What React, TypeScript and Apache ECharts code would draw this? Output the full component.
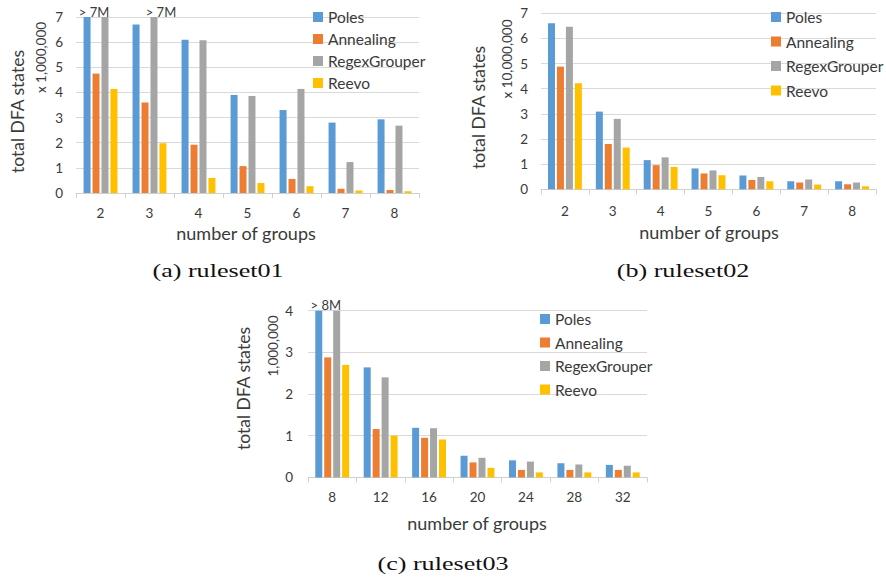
import React, { useEffect, useRef } from "react";
import * as echarts from "echarts";

// ---------- data ----------
const seriesNames = ["Poles", "Annealing", "RegexGrouper", "Reevo"];
const seriesColors = ["#5B9BD5", "#ED7D31", "#A5A5A5", "#FFC000"];

// (a) ruleset01, units of 1,000,000
const categoriesA = ["2", "3", "4", "5", "6", "7", "8"];
const polesA = [7, 6.7, 6.1, 3.9, 3.3, 2.8, 2.93];
const annealingA = [4.75, 3.6, 1.92, 1.07, 0.56, 0.17, 0.12];
const regexA = [7, 7, 6.08, 3.86, 4.14, 1.23, 2.68];
const reevoA = [4.14, 1.98, 0.6, 0.4, 0.27, 0.1, 0.07];
const overflowA = [
  { series: "Poles", index: 0, text: "> 7M" },
  { series: "RegexGrouper", index: 1, text: "> 7M" },
];

// (b) ruleset02, units of 10,000,000
const categoriesB = ["2", "3", "4", "5", "6", "7", "8"];
const polesB = [6.6, 3.09, 1.16, 0.83, 0.55, 0.32, 0.32];
const annealingB = [4.88, 1.8, 0.96, 0.63, 0.37, 0.27, 0.2];
const regexB = [6.47, 2.8, 1.27, 0.75, 0.49, 0.39, 0.27];
const reevoB = [4.22, 1.66, 0.89, 0.56, 0.32, 0.19, 0.12];

// (c) ruleset03, units of 1,000,000
const categoriesC = ["8", "12", "16", "20", "24", "28", "32"];
const polesC = [4, 2.64, 1.19, 0.52, 0.41, 0.34, 0.3];
const annealingC = [2.88, 1.16, 0.95, 0.36, 0.18, 0.18, 0.18];
const regexC = [4, 2.4, 1.18, 0.47, 0.38, 0.31, 0.28];
const reevoC = [2.7, 1.0, 0.91, 0.23, 0.12, 0.12, 0.12];
const overflowC = [{ series: "Poles", index: 0, text: "> 8M" }];

const yTicksAB = { min: 0, max: 7, interval: 1 };
const yTicksC = { min: 0, max: 4, interval: 1 };

const FONT = "Lato, 'Open Sans', sans-serif";
const TXT = "#3a3a3a";

type Overflow = { series: string; index: number; text: string };

function buildData(name: string, values: number[], overflow: Overflow[]) {
  return values.map((v, i) => {
    const o = overflow.find((x) => x.series === name && x.index === i);
    if (!o) return v;
    return {
      value: v,
      label: {
        show: true,
        position: "top",
        distance: 0,
        offset: [7, 1],
        formatter: o.text,
        fontFamily: FONT,
        fontSize: 13,
        color: TXT,
      },
    };
  });
}

export default function App() {
  const ref = useRef<HTMLDivElement>(null);

  useEffect(() => {
    if (!ref.current) return;
    const chart = echarts.init(ref.current, undefined, { renderer: "svg" });

    const panels = [
      {
        cats: categoriesA,
        vals: [polesA, annealingA, regexA, reevoA],
        overflow: overflowA,
        grid: { left: 76, top: 17, width: 343, height: 176 },
        ticks: yTicksAB,
        yMargin: 13,
        xMargin: 13,
        legend: { left: 313, top: 9, itemGap: 6 },
      },
      {
        cats: categoriesB,
        vals: [polesB, annealingB, regexB, reevoB],
        overflow: [] as Overflow[],
        grid: { left: 541, top: 13.3, width: 335, height: 176 },
        ticks: yTicksAB,
        yMargin: 13,
        xMargin: 14.5,
        legend: { left: 771, top: 9, itemGap: 8.5 },
      },
      {
        cats: categoriesC,
        vals: [polesC, annealingC, regexC, reevoC],
        overflow: overflowC,
        grid: { left: 308, top: 310.7, width: 339, height: 166.7 },
        ticks: yTicksC,
        yMargin: 15,
        xMargin: 13,
        legend: { left: 540, top: 311, itemGap: 7.5 },
      },
    ];

    const grids: any[] = [];
    const xAxes: any[] = [];
    const yAxes: any[] = [];
    const legends: any[] = [];
    const series: any[] = [];

    panels.forEach((p, gi) => {
      grids.push({ ...p.grid, containLabel: false });
      xAxes.push({
        type: "category",
        gridIndex: gi,
        data: p.cats,
        boundaryGap: true,
        axisLine: { show: true, lineStyle: { color: "#d0d0d0", width: 1 } },
        axisTick: {
          show: true,
          length: 5,
          alignWithLabel: false,
          lineStyle: { color: "#d0d0d0" },
        },
        axisLabel: {
          fontFamily: FONT,
          fontSize: 13.5,
          color: TXT,
          margin: p.xMargin,
        },
      });
      yAxes.push({
        type: "value",
        gridIndex: gi,
        min: p.ticks.min,
        max: p.ticks.max,
        interval: p.ticks.interval,
        axisLine: { show: false },
        axisTick: { show: false },
        splitLine: { show: true, lineStyle: { color: "#d9d9d9", width: 1 } },
        axisLabel: {
          fontFamily: FONT,
          fontSize: 13.5,
          color: TXT,
          margin: p.yMargin,
        },
      });
      legends.push({
        orient: "vertical",
        left: p.legend.left,
        top: p.legend.top,
        padding: 0,
        itemGap: p.legend.itemGap,
        itemWidth: 10,
        itemHeight: 10,
        icon: "rect",
        data: seriesNames,
        textStyle: { fontFamily: FONT, fontSize: 15.5, color: TXT },
      });
      seriesNames.forEach((name, si) => {
        series.push({
          type: "bar",
          name,
          xAxisIndex: gi,
          yAxisIndex: gi,
          barWidth: 7,
          barGap: "28%",
          itemStyle: { color: seriesColors[si] },
          data: buildData(name, p.vals[si], p.overflow),
        });
      });
    });

    const rotText = (text: string, x: number, y: number, size: number) => ({
      type: "text",
      x,
      y,
      rotation: Math.PI / 2,
      style: {
        text,
        font: `${size}px ${FONT}`,
        fill: TXT,
        align: "center",
        verticalAlign: "middle",
        textAlign: "center",
        textVerticalAlign: "middle",
      },
    });
    const hText = (text: string, x: number, y: number, size: number) => ({
      type: "text",
      x,
      y,
      style: {
        text,
        font: `${size}px ${FONT}`,
        fill: TXT,
        align: "center",
        verticalAlign: "middle",
        textAlign: "center",
        textVerticalAlign: "middle",
      },
    });
    const caption = (text: string, x: number, y: number) => ({
      type: "text",
      x,
      y,
      scaleX: 1.45,
      style: {
        text,
        font: "18px 'Liberation Serif', serif",
        fill: "#111",
        align: "center",
        verticalAlign: "middle",
        textAlign: "center",
        textVerticalAlign: "middle",
      },
    });

    const graphic = [
      rotText("total DFA states", 17.5, 111.5, 17.5),
      rotText("x 1,000,000", 41, 57.5, 13.5),
      hText("number of groups", 246, 233, 18),
      rotText("total DFA states", 478, 107.5, 17.5),
      rotText("x 10,000,000", 507, 59, 13.5),
      hText("number of groups", 709, 232, 18),
      rotText("total DFA states", 243, 388.5, 17.5),
      rotText("1,000,000", 273, 346, 13.5),
      hText("number of groups", 477, 523, 18),
      caption("(a) ruleset01", 218, 271),
      caption("(b) ruleset02", 683, 271),
      caption("(c) ruleset03", 443, 564),
    ];

    chart.setOption({
      animation: false,
      backgroundColor: "#ffffff",
      grid: grids,
      xAxis: xAxes,
      yAxis: yAxes,
      legend: legends,
      series,
      graphic,
    });

    return () => chart.dispose();
  }, []);

  return (
    <div
      ref={ref}
      style={{
        position: "fixed",
        left: 0,
        top: 0,
        width: 886,
        height: 578,
        background: "#fff",
      }}
    />
  );
}
